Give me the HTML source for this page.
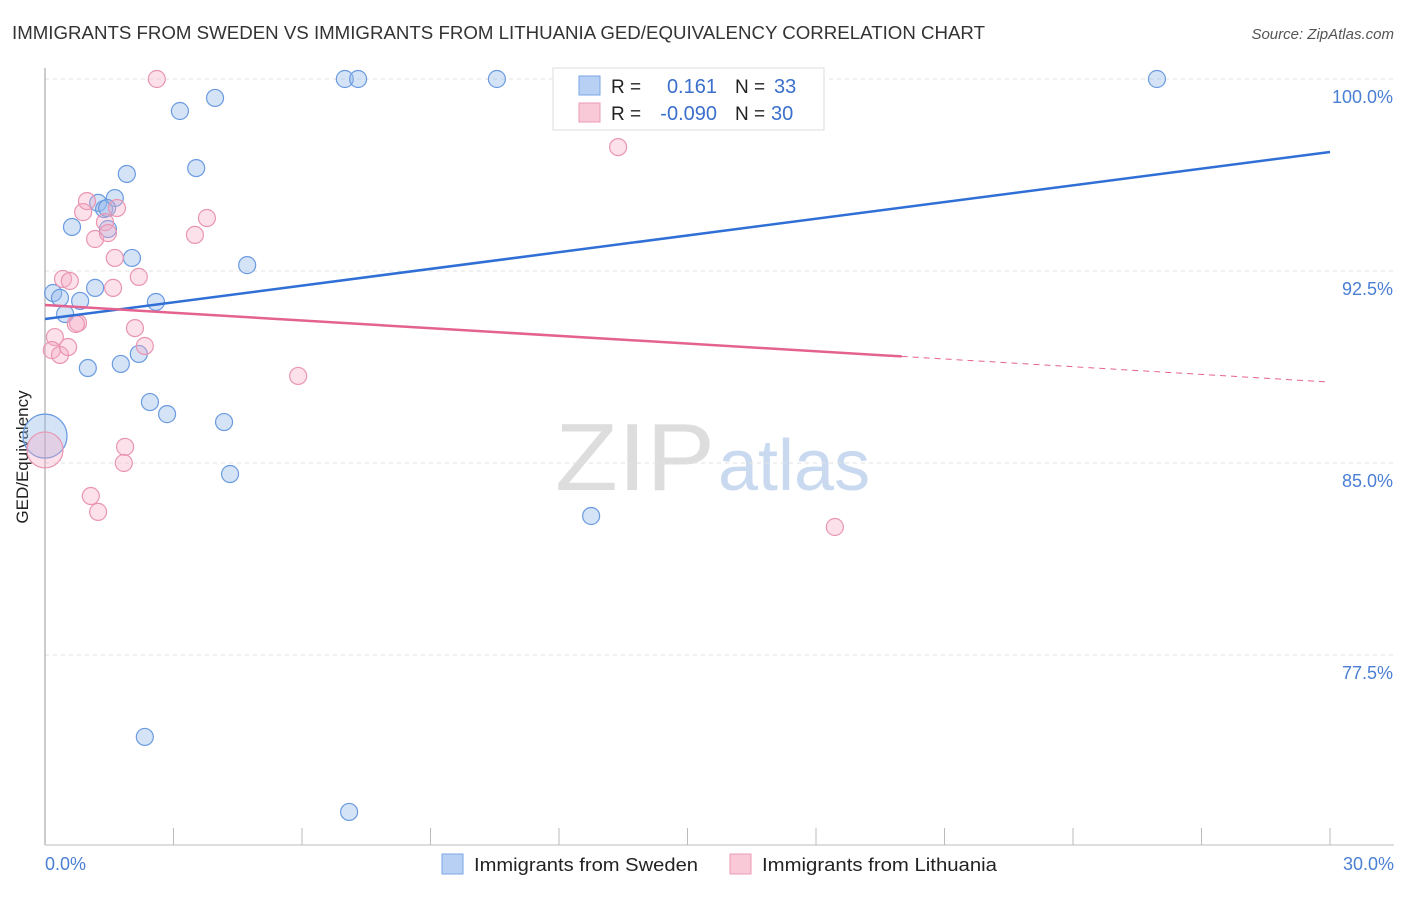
<!DOCTYPE html>
<html><head><meta charset="utf-8"><style>
body{margin:0;background:#fff;font-family:"Liberation Sans",sans-serif;}
svg text{font-family:"Liberation Sans",sans-serif;}
</style></head><body>
<svg id="chart" width="1406" height="892" viewBox="0 0 1406 892" xmlns="http://www.w3.org/2000/svg">
<text x="12" y="39" font-size="18" fill="#333" textLength="973" lengthAdjust="spacingAndGlyphs">IMMIGRANTS FROM SWEDEN VS IMMIGRANTS FROM LITHUANIA GED/EQUIVALENCY CORRELATION CHART</text>
<text x="1394" y="39" font-size="15" fill="#555" font-style="italic" text-anchor="end">Source: ZipAtlas.com</text>
<text x="555" y="490" font-size="96" fill="#ddd" textLength="160" lengthAdjust="spacingAndGlyphs" font-family="Liberation Serif">ZIP</text>
<text x="718" y="490" font-size="72" fill="#c9d9ef">atlas</text>
<g id="grid"></g>
<line x1="45" y1="68" x2="45" y2="845" stroke="#bbb" stroke-width="1.5"/>
<line x1="45" y1="845" x2="1394" y2="845" stroke="#bbb" stroke-width="1"/>
<g id="xticks"></g>
<text x="28" y="457" font-size="17" fill="#222" text-anchor="middle" transform="rotate(-90 28 457)">GED/Equivalency</text>
<text x="45" y="870" font-size="18" fill="#4a7fd4">0.0%</text>
<text x="1394" y="870" font-size="18" fill="#4a7fd4" text-anchor="end">30.0%</text>
<g id="pts"></g>
<g id="lines"></g>
<g>
<rect x="553" y="68" width="271" height="62" fill="#fff" stroke="#ddd"/>
<rect x="579" y="76" width="21" height="19" fill="#b8d0f4" stroke="#7aa6e6"/>
<rect x="579" y="103" width="21" height="19" fill="#f9c9d7" stroke="#ec9ab5"/>
<text x="611" y="93" font-size="19" fill="#222">R =</text>
<text x="717" y="93" font-size="20" fill="#3a6fcc" text-anchor="end">0.161</text>
<text x="735" y="93" font-size="19" fill="#222">N =</text>
<text x="774" y="93" font-size="20" fill="#3a6fcc">33</text>
<text x="611" y="120" font-size="19" fill="#222">R =</text>
<text x="717" y="120" font-size="20" fill="#3a6fcc" text-anchor="end">-0.090</text>
<text x="735" y="120" font-size="19" fill="#222">N =</text>
<text x="771" y="120" font-size="20" fill="#3a6fcc">30</text>
</g>
<g>
<rect x="442" y="854" width="21" height="20" fill="#b8d0f4" stroke="#7aa6e6"/>
<text x="474" y="871" font-size="18" fill="#222" textLength="224" lengthAdjust="spacingAndGlyphs">Immigrants from Sweden</text>
<rect x="730" y="854" width="21" height="20" fill="#f9c9d7" stroke="#ec9ab5"/>
<text x="762" y="871" font-size="18" fill="#222" textLength="235" lengthAdjust="spacingAndGlyphs">Immigrants from Lithuania</text>
</g>
</svg>
<script>
const yTicks=[100,92.5,85,77.5];
const yTickLabels=["100.0%","92.5%","85.0%","77.5%"];
const swedenX=[0.19,0.35,0.47,0.63,0.82,1.00,1.17,1.24,1.38,1.47,1.63,1.77,1.91,2.03,2.19,2.33,2.45,2.59,2.85,3.15,3.53,3.97,4.18,4.32,4.72,7.00,7.31,7.10,10.55,12.75,25.96,0,1.45];
const swedenY=[91.64,91.45,90.82,94.22,91.33,88.71,91.84,95.16,94.92,94.14,95.35,88.87,96.29,93.01,89.26,74.30,87.38,91.29,86.91,98.75,96.52,99.26,86.60,84.57,92.73,100,100,71.37,100,82.93,100,86.05,94.96];
const lithX=[2.61,13.38,0.89,0.98,1.17,1.40,1.47,1.68,1.63,1.59,2.19,2.10,2.33,3.50,3.78,0.42,0.58,0.77,0.72,0.23,0.16,0.35,0.54,5.91,1.87,1.84,1.07,1.24,18.44,0];
const lithY=[100,97.34,94.80,95.23,93.75,94.41,93.98,94.96,93.01,91.84,92.27,90.27,89.57,93.91,94.57,92.19,92.11,90.47,90.43,89.92,89.41,89.22,89.53,88.40,85.63,85.00,83.71,83.09,82.50,85.51];
const swedenTrend=[90.625,97.15];
const lithTrend=[91.17,88.16];
const NS="http://www.w3.org/2000/svg";
const X=v=>45+v*(1285/30);
const Y=v=>79+(100-v)*25.6;
function mk(t,a,p){const e=document.createElementNS(NS,t);for(const k in a)e.setAttribute(k,a[k]);p.appendChild(e);return e;}
const grid=document.getElementById('grid');
yTicks.forEach((t,i)=>{
 const l=mk('line',{x1:45,x2:1394,y1:Y(t),y2:Y(t),stroke:'#e2e2e2','stroke-dasharray':'4,4'},grid);
 
 
 const tx=mk('text',{x:1393,y:Y(t)+24,'font-size':18,fill:'#4a7fd4','text-anchor':'end'},grid);
 tx.textContent=yTickLabels[i];
 
 
});
const xt=document.getElementById('xticks');
for(let i=0;i<=10;i++){
 const l=mk('line',{x1:X(i*3),x2:X(i*3),y1:828,y2:845,stroke:'#bbb'},xt);
 
 
}
const pts=document.getElementById('pts');
swedenX.forEach((x,i)=>{
 const big=(x===0);
 const c=mk('circle',{cx:X(x),cy:Y(swedenY[i]),r:big?22:8.5,fill:'rgba(150,185,235,0.4)',stroke:'#6a9be0','stroke-width':1.2},pts);
 
 
});
lithX.forEach((x,i)=>{
 const big=(x===0);
 const c=mk('circle',{cx:X(x),cy:Y(lithY[i]),r:big?18:8.5,fill:'rgba(245,170,195,0.35)',stroke:'#e995b2','stroke-width':1.2},pts);
 
 
});
const ln=document.getElementById('lines');
const b=mk('line',{x1:X(0),y1:Y(swedenTrend[0]),x2:X(30),y2:Y(swedenTrend[1]),stroke:'#2f6fd6','stroke-width':2.5},ln);


const ly=x=>lithTrend[0]+(lithTrend[1]-lithTrend[0])*x/30;
const p1=mk('line',{x1:X(0),y1:Y(ly(0)),x2:X(20),y2:Y(ly(20)),stroke:'#e4628f','stroke-width':2.5},ln);


const p2=mk('line',{x1:X(20),y1:Y(ly(20)),x2:X(30),y2:Y(ly(30)),stroke:'#e4628f','stroke-width':1,'stroke-dasharray':'6,5'},ln);


</script>
</body></html>
